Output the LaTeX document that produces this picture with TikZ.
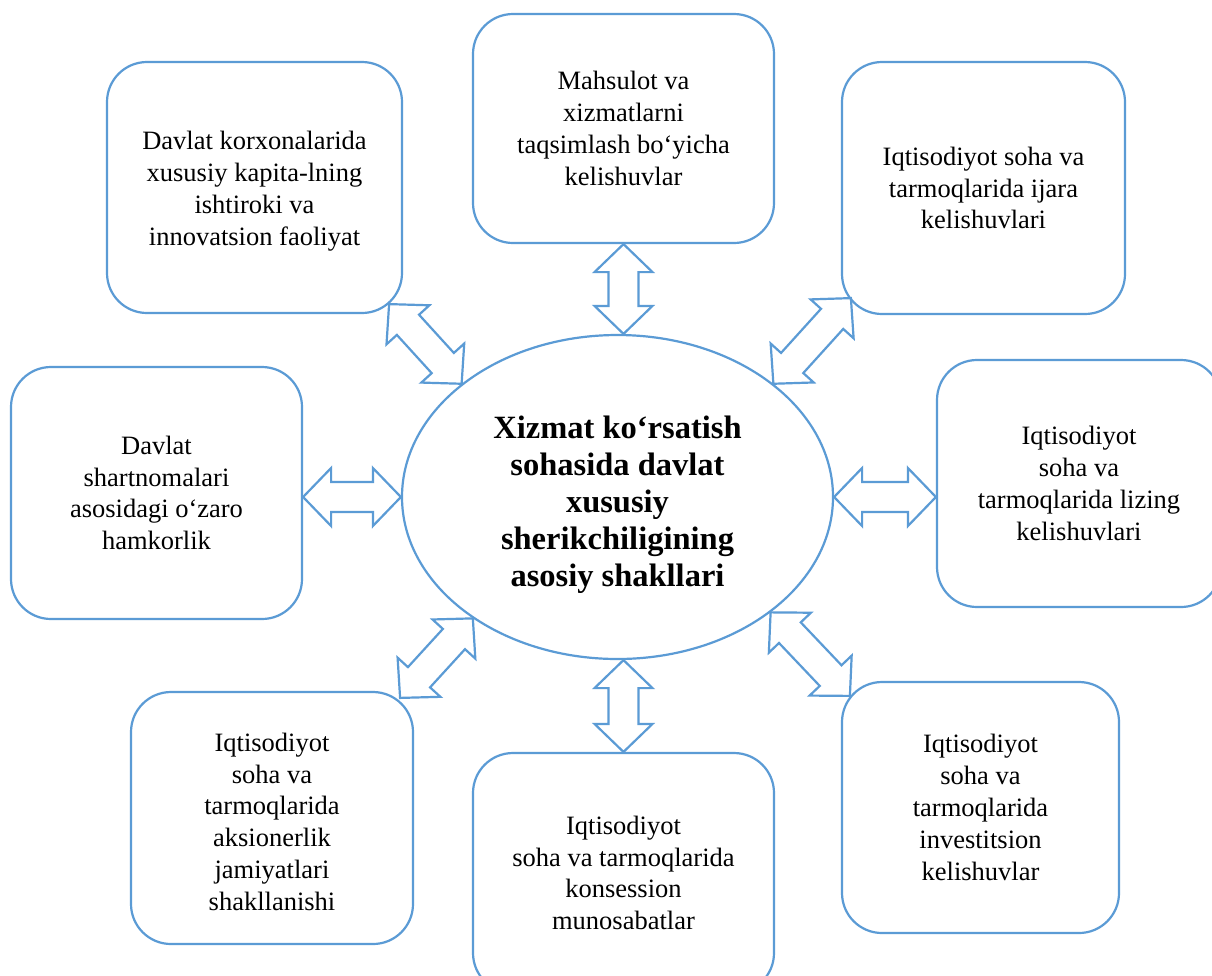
\documentclass[tikz,border=0pt]{standalone}
\usepackage{fontspec}
\setmainfont{Liberation Serif}
\usetikzlibrary{calc,shapes.geometric}
\definecolor{lblue}{RGB}{91,155,213}
\newcommand{\arrHL}{28pt}
\newcommand{\arrHW}{29pt}
\newcommand{\arrSW}{15pt}
\tikzset{
  box/.style={draw=lblue, line width=2.2pt, rounded corners=40pt, align=center,
    inner sep=0pt, font=\fontsize{26.5}{31.8}\selectfont},
  centre/.style={draw=lblue, line width=2.2pt, ellipse, inner sep=0pt, align=center,
    minimum width=431pt, minimum height=324pt, font=\fontsize{32.5}{37}\selectfont\bfseries},
  barrow/.style={draw=lblue, line width=2.2pt, fill=white, line join=miter}
}
\newcommand{\dblarrow}[2]{%
  \path (#1) coordinate (dA) (#2) coordinate (dB);
  \coordinate (dH1) at ($(dA)!\arrHL!(dB)$);
  \coordinate (dH2) at ($(dB)!\arrHL!(dA)$);
  \draw[barrow] (dA) -- ($(dH1)!\arrHW!-90:(dB)$) -- ($(dH1)!\arrSW!-90:(dB)$)
    -- ($(dH2)!\arrSW!90:(dA)$) -- ($(dH2)!\arrHW!90:(dA)$) -- (dB)
    -- ($(dH2)!\arrHW!-90:(dA)$) -- ($(dH2)!\arrSW!-90:(dA)$)
    -- ($(dH1)!\arrSW!90:(dB)$) -- ($(dH1)!\arrHW!90:(dB)$) -- cycle;}
\begin{document}
\begin{tikzpicture}[x=1pt,y=-1pt]
\useasboundingbox (0,0) rectangle (1212,975);
\clip (0,0) rectangle (1212,975);
\fill[white] (0,0) rectangle (1212,975);

\node[centre] (ell) at (617.5,497) {\rule{0pt}{37pt}Xizmat ko‘rsatish\\sohasida davlat\\xususiy\\sherikchiligining\\asosiy shakllari};

\node[box, minimum width=295pt, minimum height=251pt] (b1) at (254.5,187.5)
  {\rule{0pt}{26pt}Davlat korxonalarida\\xususiy kapita-lning\\ishtiroki va\\innovatsion faoliyat};
\node[box, minimum width=301pt, minimum height=229pt] (b2) at (623.5,128.5)
  {Mahsulot va\\xizmatlarni\\taqsimlash bo‘yicha\\kelishuvlar};
\node[box, minimum width=283pt, minimum height=252pt] (b3) at (983.5,188)
  {Iqtisodiyot soha va\\tarmoqlarida ijara\\kelishuvlari};
\node[box, minimum width=291pt, minimum height=252pt] (b4) at (156.5,493)
  {Davlat\\shartnomalari\\asosidagi o‘zaro\\hamkorlik};
\node[box, minimum width=284pt, minimum height=247pt] (b5) at (1079,483.5)
  {Iqtisodiyot\\soha va\\tarmoqlarida lizing\\kelishuvlari};
\node[box, minimum width=282pt, minimum height=252pt] (b6) at (272,818)
  {\rule{0pt}{26pt}Iqtisodiyot\\soha va\\tarmoqlarida\\aksionerlik\\jamiyatlari\\shakllanishi};
\node[box, minimum width=301pt, minimum height=240pt] (b7) at (623.5,873)
  {Iqtisodiyot\\soha va tarmoqlarida\\konsession\\munosabatlar};
\node[box, minimum width=277pt, minimum height=251pt] (b8) at (980.5,807.5)
  {Iqtisodiyot\\soha va\\tarmoqlarida\\investitsion\\kelishuvlar};

\dblarrow{$(b1.south east)+(-14,-10)$}{ell.144}
\dblarrow{b2.south}{b2.south |- ell.north}
\dblarrow{$(b3.south west)+(10,-17)$}{ell.36}
\dblarrow{ell.west -| b4.east}{ell.west}
\dblarrow{ell.east}{ell.east -| b5.west}
\dblarrow{ell.-140}{$(b6.north east)+(-14,7)$}
\dblarrow{b7.north |- ell.south}{b7.north}
\dblarrow{ell.-37}{$(b8.north west)+(9,15)$}
\end{tikzpicture}
\end{document}
